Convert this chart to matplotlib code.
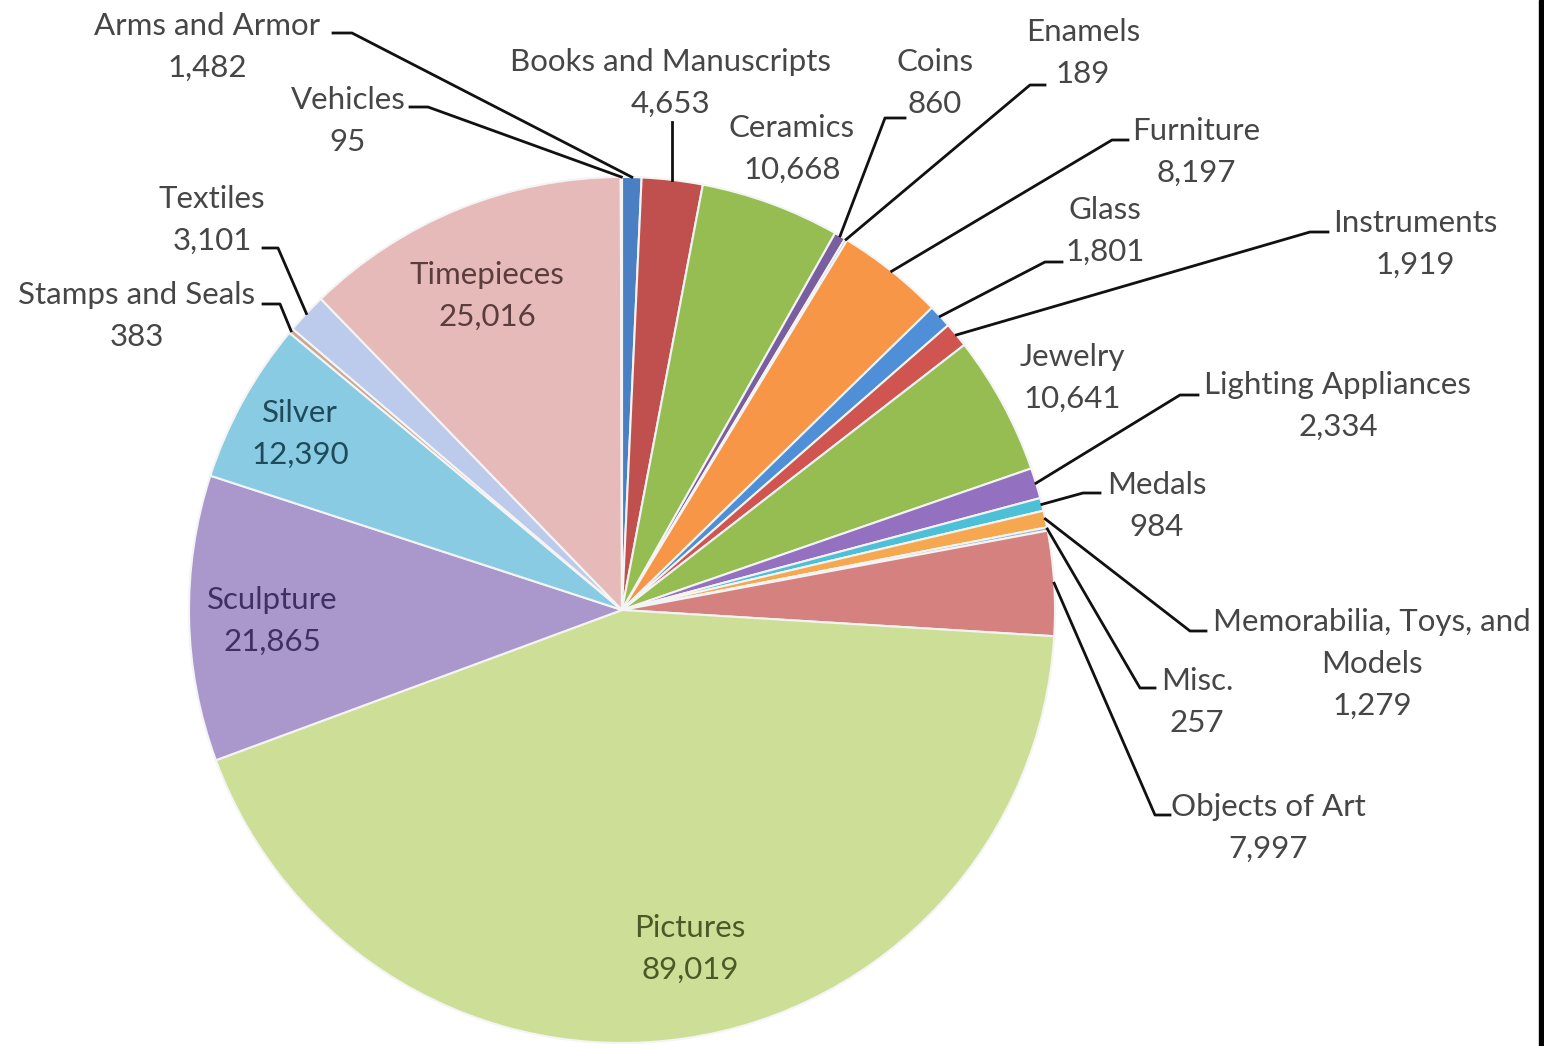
import matplotlib.pyplot as plt
import numpy as np

# 데이터: 카테고리별 소장품 수 (12시 방향부터 시계방향)
categories = ["Arms and Armor", "Books and Manuscripts", "Ceramics", "Coins", "Enamels",
              "Furniture", "Glass", "Instruments", "Jewelry", "Lighting Appliances",
              "Medals", "Memorabilia, Toys, and\nModels", "Misc.", "Objects of Art",
              "Pictures", "Sculpture", "Silver", "Stamps and Seals", "Textiles",
              "Timepieces", "Vehicles"]
counts = [1482, 4653, 10668, 860, 189, 8197, 1801, 1919, 10641, 2334,
          984, 1279, 257, 7997, 89019, 21865, 12390, 383, 3101, 25016, 95]
value_labels = ["1,482", "4,653", "10,668", "860", "189", "8,197", "1,801", "1,919",
                "10,641", "2,334", "984", "1,279", "257", "7,997", "89,019", "21,865",
                "12,390", "383", "3,101", "25,016", "95"]

colors = ["#4a7fc4", "#c0504d", "#96bd52", "#7a5fa0", "#4bacc6", "#f79646",
          "#4f8fd8", "#d05450", "#96bd52", "#9370c0", "#4bc0d6", "#f5a850",
          "#95b3d7", "#d4817f", "#cddf97", "#aa98cd", "#88cbe2", "#c8a890",
          "#bccbeb", "#e6bab9", "#c3d69b"]

# 라벨 위치 (픽셀: x 중심, 첫 줄 y 중심) / 리더선 꺾임점 (x_텍스트쪽, x_바깥쪽, y)
label_pos = {
    0: (207, 26), 1: (670, 62), 2: (792, 128), 3: (935, 62), 4: (1083, 32),
    5: (1196, 131), 6: (1105, 210), 7: (1415, 223), 8: (1072, 357), 9: (1338, 385),
    10: (1157, 485), 11: (1372, 622), 12: (1197, 681), 13: (1268, 807),
    14: (690, 928), 15: (272, 600), 16: (300, 413), 17: (137, 295), 18: (212, 199),
    19: (487, 275), 20: (348, 100),
}
leaders = {
    0: (333, 352, 33), 3: (905, 885, 118), 4: (1045, 1030, 85), 5: (1128, 1112, 140),
    6: (1062, 1045, 262), 7: (1328, 1310, 232), 9: (1198, 1180, 395),
    10: (1100, 1083, 493), 11: (1206, 1190, 631), 12: (1155, 1140, 688),
    13: (1170, 1155, 815), 17: (263, 280, 304), 18: (263, 278, 248), 20: (410, 428, 107),
}
inside = {14: "#4a5a26", 15: "#3f3060", 16: "#1f4a5a", 19: "#5a3d3c"}
line_step = 42

W, H = 1544, 1046
cx, cy, r = 622, 610, 433

plt.rcParams['font.family'] = ['Lato', 'DejaVu Sans']

fig = plt.figure(figsize=(W / 100, H / 100), dpi=100)
ax = fig.add_axes([0, 0, 1, 1])

# y축 반전 상태에서 counterclock=True -> 화면상 시계방향
wedges, _ = ax.pie(counts, colors=colors, startangle=-90, counterclock=True,
                   center=(cx, cy), radius=r,
                   wedgeprops=dict(edgecolor="#f4f4f4", linewidth=1.5))
ax.set_xlim(0, W)
ax.set_ylim(H, 0)
ax.set_aspect("equal")
ax.axis("off")

for i, w in enumerate(wedges):
    x, y = label_pos[i]
    lines = categories[i].split("\n") + [value_labels[i]]
    for k, line in enumerate(lines):
        # 줄마다 별도 텍스트로 그려 라벨 간 겹침 방지
        ax.text(x, y + k * line_step, line, ha="center", va="center", fontsize=22.5,
                color=inside.get(i, "#464646"))
    mid = np.deg2rad((w.theta1 + w.theta2) / 2)
    ax_pt = (cx + r * np.cos(mid), cy + r * np.sin(mid))
    if i in leaders:
        xa, xb, yl = leaders[i]
        ax.plot([xa, xb, ax_pt[0]], [yl, yl, ax_pt[1]], color="#111111", lw=2)
    elif i == 1:
        # Books: 수직 리더선
        ax.plot([ax_pt[0], ax_pt[0]], [122, ax_pt[1]], color="#111111", lw=2)

# 오른쪽 검은 테두리
fig.patches.append(plt.Rectangle((1539 / W, 0), 5 / W, 1, transform=fig.transFigure,
                                 color="black"))

fig.savefig("out.png", dpi=100, facecolor="white")
